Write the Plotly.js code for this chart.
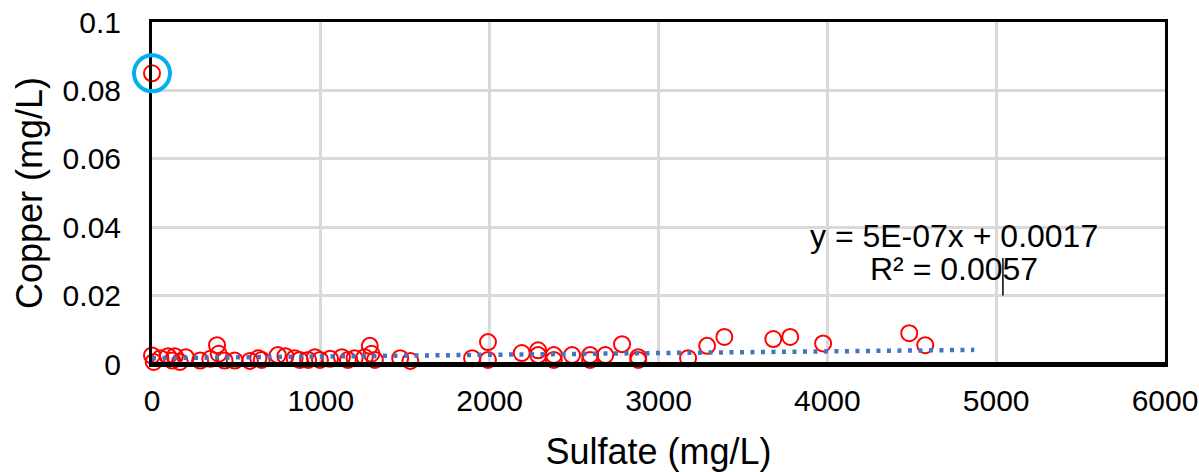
<!DOCTYPE html>
<html>
<head>
<meta charset="utf-8">
<script src="https://cdn.plot.ly/plotly-3.0.1.min.js"></script>
<style>html,body{margin:0;padding:0;background:#fff;}#chart{width:1199px;height:472px;}</style>
</head>
<body>
<div id="chart"></div>
<script>
// Sulfate (mg/L) vs Copper (mg/L)
const sulfate = [0, 0, 10, 50, 95, 120, 135, 165, 200, 285,
                 345, 385, 395, 430, 490, 580, 630, 650, 745, 790,
                 845, 875, 925, 965, 995, 1055, 1125, 1160, 1200, 1260,
                 1290, 1300, 1320, 1470, 1530, 1896, 1990, 1990, 2190, 2287,
                 2287, 2380, 2380, 2488, 2595, 2595, 2685, 2784, 2880, 2880,
                 3175, 3288, 3390, 3680, 3780, 3975, 4485, 4580];
const copper = [0.085, 0.0025, 0.0006, 0.0017, 0.0023, 0.0010, 0.0023, 0.0006, 0.0020, 0.0010,
                0.0015, 0.0055, 0.0030, 0.0010, 0.0010, 0.0009, 0.0017, 0.0012, 0.0026, 0.0023,
                0.0017, 0.0012, 0.0012, 0.0020, 0.0012, 0.0015, 0.0020, 0.0012, 0.0017, 0.0020,
                0.0053, 0.0030, 0.0012, 0.0017, 0.0009, 0.0017, 0.0064, 0.0012, 0.0032, 0.0040,
                0.0026, 0.0026, 0.0012, 0.0026, 0.0026, 0.0012, 0.0026, 0.0058, 0.0020, 0.0012,
                0.0017, 0.0053, 0.0079, 0.0073, 0.0079, 0.0060, 0.0090, 0.0055];

// Linear trendline (as displayed): y = 5E-07x + 0.0017
const trendSlope = 5e-7;
const trendIntercept = 0.0017;
const trendRange = [0, 4870];
const trendX = trendRange;
const trendY = trendRange.map(x => trendSlope * x + trendIntercept);

const equationText = "y = 5E-07x + 0.0017";
const r2Text = "R² = 0.0057";
const highlighted = {x: 0, y: 0.085};

const xTicks = [0, 1000, 2000, 3000, 4000, 5000, 6000];
const yTicks = [0, 0.02, 0.04, 0.06, 0.08, 0.1];
const yTickText = ["0", "0.02", "0.04", "0.06", "0.08", "0.1"];

const FONT = "Liberation Sans, Arial, sans-serif";

const traces = [
  {
    x: sulfate, y: copper, type: "scatter", mode: "markers",
    marker: {symbol: "circle-open", size: 16, color: "#FF0000", line: {width: 2, color: "#FF0000"}},
    cliponaxis: false, hoverinfo: "x+y", showlegend: false
  },
  {
    x: trendX, y: trendY, type: "scatter", mode: "lines",
    line: {color: "#4472C4", width: 4.5, dash: "4px,6.5px"},
    cliponaxis: false, showlegend: false, hoverinfo: "skip"
  }
];

const layout = {
  width: 1199, height: 472,
  margin: {l: 152, r: 34, t: 22, b: 108, pad: 0},
  paper_bgcolor: "#ffffff", plot_bgcolor: "#ffffff",
  font: {family: FONT, color: "#000000", size: 30},
  showlegend: false,
  xaxis: {
    range: [0, 6000], tickvals: xTicks, ticktext: xTicks.map(String),
    showgrid: true, gridcolor: "#D9D9D9", gridwidth: 3,
    zeroline: false, showline: true, linecolor: "#000000", linewidth: 3, mirror: true,
    ticks: "", ticklabelstandoff: 8,
    tickfont: {family: FONT, size: 30, color: "#000000"},
    title: {text: "Sulfate (mg/L)", font: {family: FONT, size: 36, color: "#000000"}, standoff: 23},
    automargin: false
  },
  yaxis: {
    range: [0, 0.1], tickvals: yTicks, ticktext: yTickText,
    showgrid: true, gridcolor: "#D9D9D9", gridwidth: 3,
    zeroline: false, showline: true, linecolor: "#000000", linewidth: 3, mirror: true,
    ticks: "", ticklabelstandoff: 22,
    tickfont: {family: FONT, size: 30, color: "#000000"},
    title: {text: "Copper (mg/L)", font: {family: FONT, size: 36, color: "#000000"}, standoff: 10},
    automargin: false
  },
  shapes: [
    {type: "line", xref: "paper", yref: "y", x0: 0, x1: 1, y0: 0, y1: 0,
     line: {color: "#000000", width: 4}, layer: "above"},
    {type: "circle", xref: "paper", yref: "y", xsizemode: "pixel", ysizemode: "pixel",
     xanchor: 0, yanchor: highlighted.y, x0: -18, x1: 18, y0: -18, y1: 18,
     line: {color: "#00B0F0", width: 4}, layer: "above"},
    {type: "line", xref: "x", yref: "y", x0: 5040, x1: 5040, y0: 0.0200, y1: 0.0310,
     line: {color: "#000000", width: 1.5}, layer: "above"}
  ],
  annotations: [
    {text: equationText, xref: "x", yref: "y", x: 4750, y: 0.0375, showarrow: false,
     xanchor: "center", yanchor: "middle", font: {family: FONT, size: 32, color: "#000000"}},
    {text: r2Text, xref: "x", yref: "y", x: 4750, y: 0.0278, showarrow: false,
     xanchor: "center", yanchor: "middle", font: {family: FONT, size: 32, color: "#000000"}}
  ]
};

Plotly.newPlot("chart", traces, layout, {displayModeBar: false, staticPlot: true});
</script>
</body>
</html>
